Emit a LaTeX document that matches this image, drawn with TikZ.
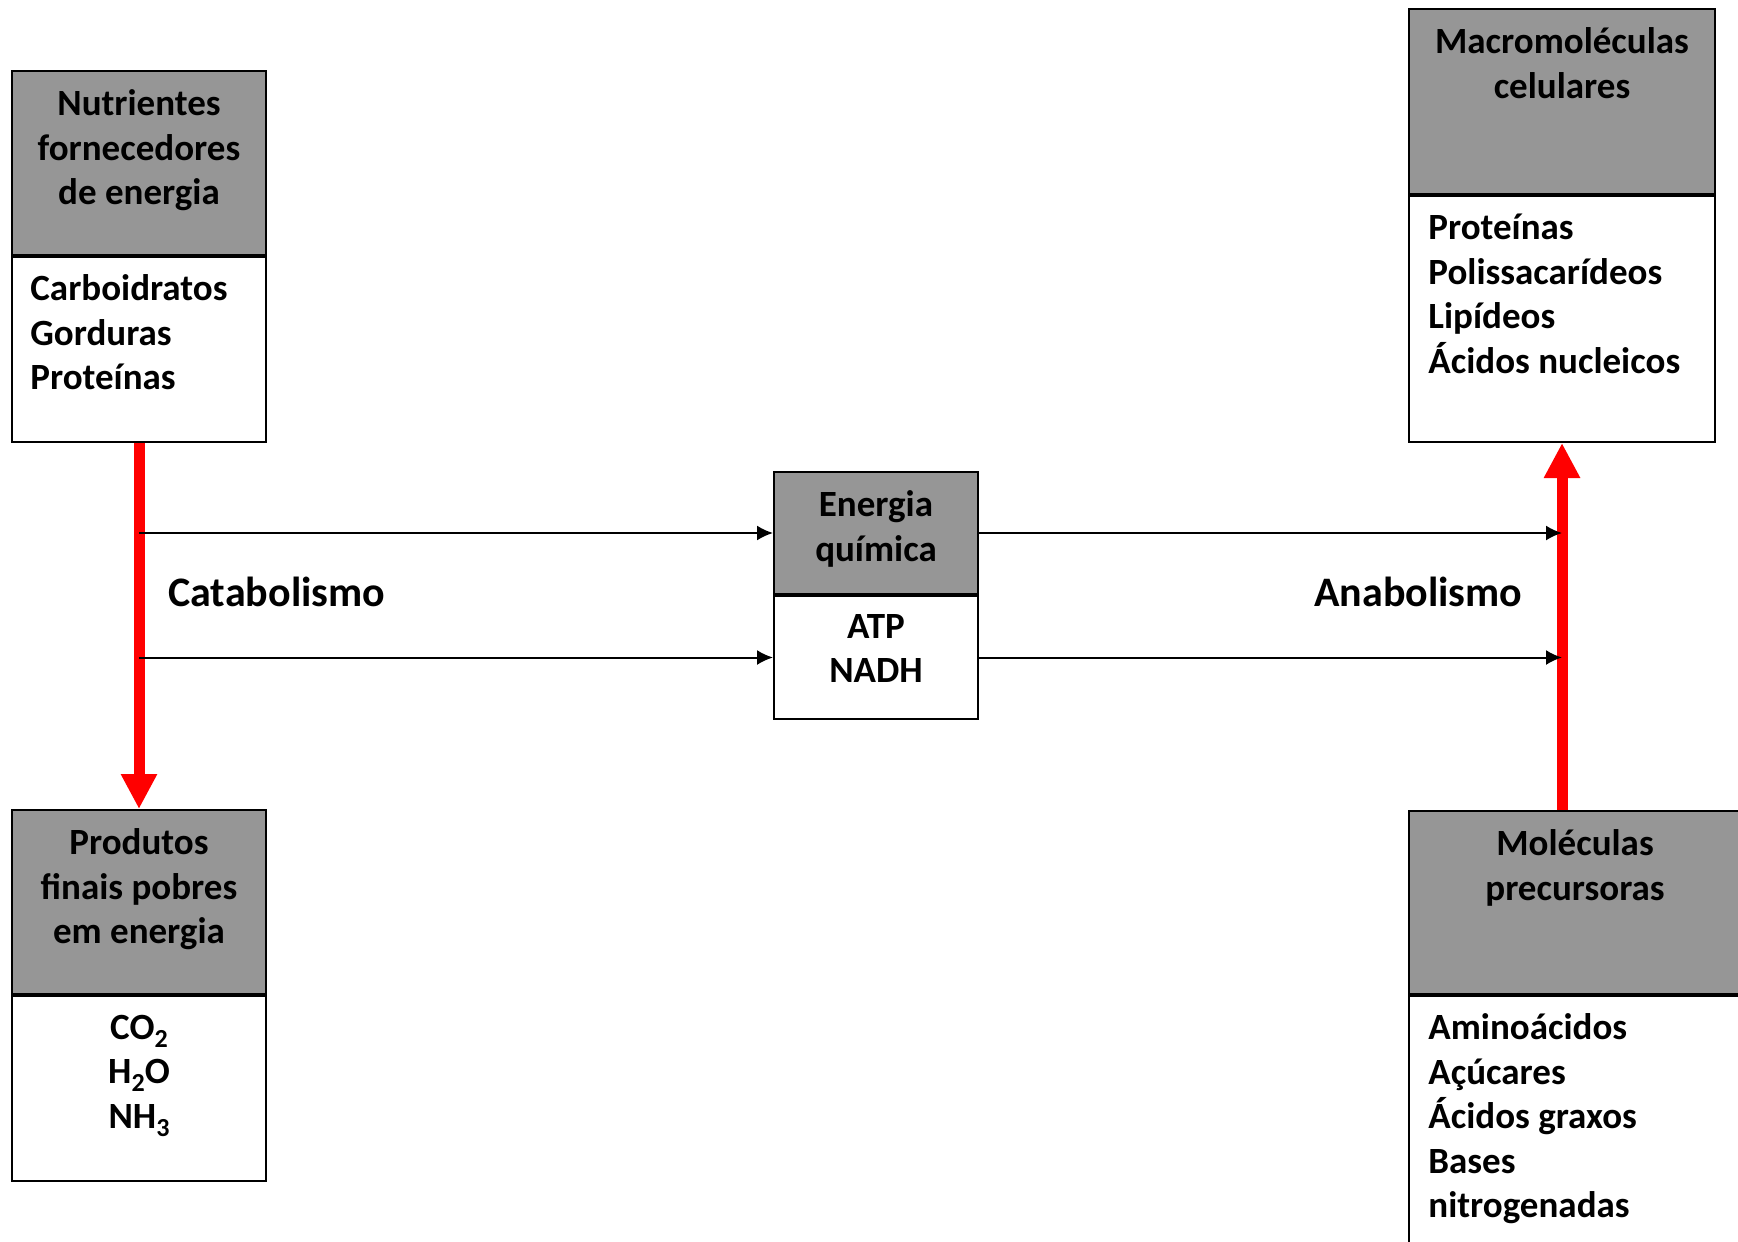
\documentclass[tikz,border=0pt]{standalone}
\usepackage{fontspec}
\setmainfont{Carlito}
\usetikzlibrary{arrows.meta,positioning}
\definecolor{hdrgray}{RGB}{150,150,150}
\definecolor{arrred}{RGB}{255,0,0}
\newcommand{\chemsub}[1]{\raisebox{-4pt}{\fontsize{13}{13}\selectfont #1}}

\begin{document}
\begin{tikzpicture}[x=0.5pt,y=-0.5pt,
  hdr/.style={draw,line width=1pt,fill=hdrgray,anchor=north west,inner sep=0pt},
  lst/.style={draw,line width=1pt,fill=white,anchor=north west,inner sep=0pt},
  txt/.style={font=\fontsize{18.5}{22.25}\selectfont\bfseries,inner sep=0pt},
  big/.style={font=\fontsize{21}{25}\selectfont\bfseries,inner sep=0pt},
  flow/.style={line width=1pt,-{Latex[length=8pt,width=7.5pt]}},
  redflow/.style={arrred,line width=5.5pt,-{Triangle[length=17.5pt,width=17pt]}}]
\useasboundingbox (0,0) rectangle (1738,1241);

%nutrientes
\node[hdr,minimum width=127pt,minimum height=92pt] (nutH) at (11,70) {};
\node[lst,minimum width=127pt,minimum height=92.5pt] (nutL) at (nutH.south west) {};
\node[txt,align=center,below=9.8pt of nutH.north] (nutT) {Nutrientes\\fornecedores\\de energia};
\node[txt,align=left,below right=9.3pt and 9.5pt of nutL.north west] (nutB) {Carboidratos\\Gorduras\\Proteínas};

%produtos finais
\node[hdr,minimum width=127pt,minimum height=92pt] (proH) at (11,809) {};
\node[lst,minimum width=127pt,minimum height=92.5pt] (proL) at (proH.south west) {};
\node[txt,align=center,below=9.8pt of proH.north] (proT) {Produtos\\finais pobres\\em energia};
\node[txt,align=center,below=9.8pt of proL.north] (proB) {CO\chemsub{2}\\H\chemsub{2}O\\NH\chemsub{3}};

%energia quimica
\node[hdr,minimum width=102pt,minimum height=61pt] (eneH) at (773,471) {};
\node[lst,minimum width=102pt,minimum height=61.5pt] (eneL) at (eneH.south west) {};
\node[txt,align=center,below=9.8pt of eneH.north] (eneT) {Energia\\química};
\node[txt,align=center,below=9.3pt of eneL.north] (eneB) {ATP\\NADH};

%macromoleculas
\node[hdr,minimum width=153pt,minimum height=92.5pt] (macH) at (1408,8) {};
\node[lst,minimum width=153pt,minimum height=123pt] (macL) at (macH.south west) {};
\node[txt,align=center,below=9.8pt of macH.north] (macT) {Macromoléculas\\celulares};
\node[txt,align=left,below right=9.3pt and 10pt of macL.north west] (macB) {Proteínas\\Polissacarídeos\\Lipídeos\\Ácidos nucleicos};

%precursoras
\node[hdr,minimum width=166pt,minimum height=91.5pt] (preH) at (1408,810) {};
\node[lst,minimum width=166pt,minimum height=123.5pt] (preL) at (preH.south west) {};
\node[txt,align=center,below=9.8pt of preH.north] (preT) {Moléculas\\precursoras};
\node[txt,align=left,below right=9.3pt and 10pt of preL.north west] (preB) {Aminoácidos\\Açúcares\\Ácidos graxos\\Bases\\nitrogenadas};

%labels
\node[big,anchor=base west] (cat) at (168,606) {Catabolismo};
\node[big,anchor=base west] (ana) at (1314,606) {Anabolismo};

%red arrows
\draw[redflow] (nutL.south) -- (proH.north);
\draw[redflow] (preH.north -| macL.south) -- (macL.south);

%black arrows
\coordinate (catA) at (nutL.south |- eneH.west);
\coordinate (catB) at (nutL.south |- eneL.west);
\coordinate (anaA) at (macL.south |- eneH.east);
\coordinate (anaB) at (macL.south |- eneL.east);
\draw[flow] (catA) -- (eneH.west);
\draw[flow] (catB) -- (eneL.west);
\draw[flow] (eneH.east) -- (anaA);
\draw[flow] (eneL.east) -- (anaB);
\end{tikzpicture}
\end{document}
